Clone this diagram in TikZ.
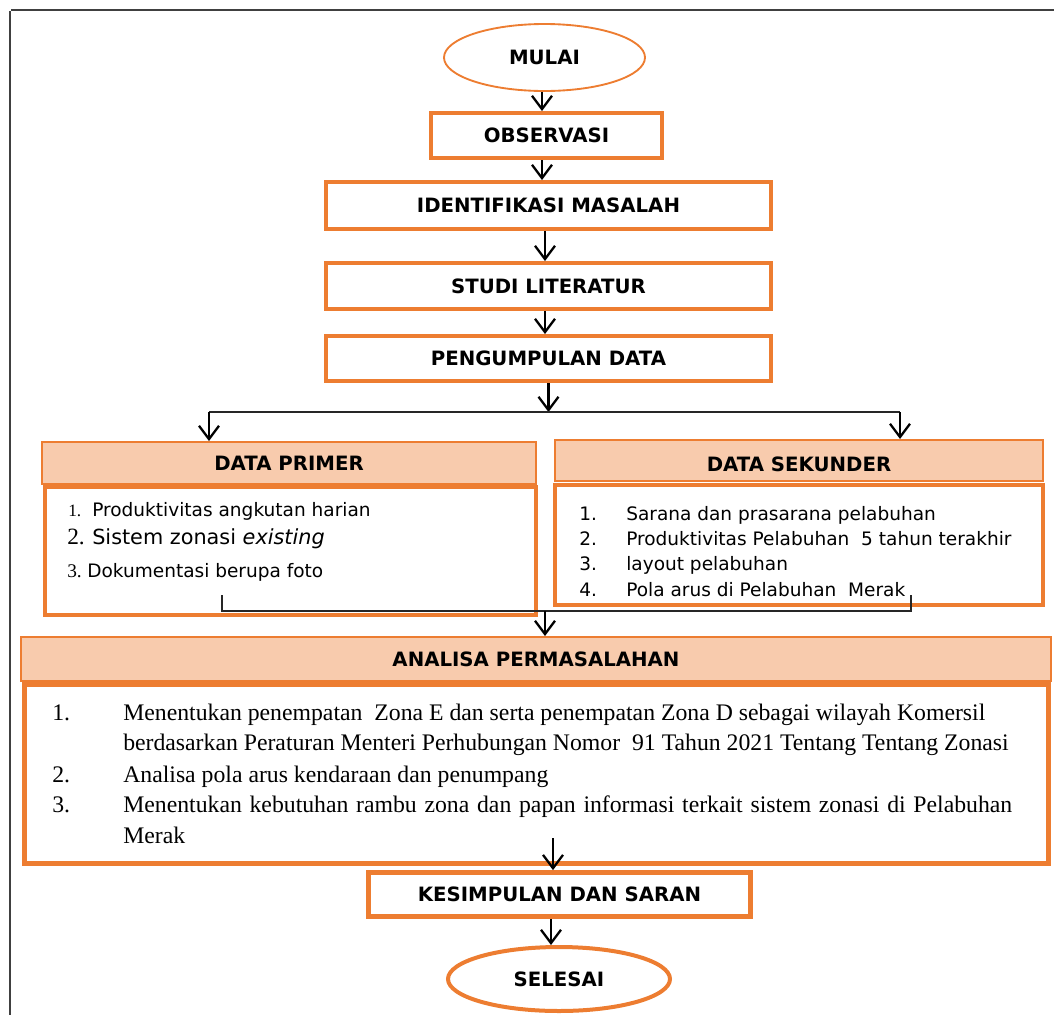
\documentclass[tikz,border=0pt]{standalone}
\usepackage{fontspec}
\setmainfont{Liberation Serif}
\newfontfamily\dvs{DejaVu Sans}
\usetikzlibrary{shapes.geometric,arrows.meta}
\definecolor{org}{HTML}{ED7D31}
\definecolor{peach}{HTML}{F8CBAD}
\begin{document}
\begin{tikzpicture}[x=0.75pt,y=-0.75pt,
  sz/.style 2 args={minimum width=#1*0.75pt,minimum height=#2*0.75pt},
  hfont/.style={font=\dvs\bfseries\fontsize{14.8pt}{17pt}\selectfont},
  termnode/.style={ellipse,draw=org,inner sep=0pt,hfont},
  procbox/.style={rectangle,draw=org,line width=3pt,inner sep=0pt,hfont},
  headbox/.style={rectangle,draw=org,fill=peach,line width=1.5pt,inner sep=0pt,hfont},
  bodybox/.style={rectangle,draw=org,line width=3pt,inner sep=0pt},
  arr/.style={draw=black,line width=1.7pt,-{Straight Barb[length=10pt,width=15pt]}},
  conn/.style={draw=black!85,line width=1pt},
  txt/.style={anchor=base west,inner sep=0pt,font=\dvs\fontsize{13.9pt}{16pt}\selectfont},
  ser/.style={anchor=base west,inner sep=0pt,font=\fontsize{17.8pt}{20pt}\selectfont}]
\useasboundingbox (0,0) rectangle (1054,1015);
% frame
\draw[line width=1.5pt,black!75] (11,10) -- (1054,10);
\draw[line width=1.5pt,black!75] (10,11) -- (10,1015);
% main chain
\node[termnode,line width=1.4pt,sz={201}{67}] (mulai) at (544.5,57.5) {MULAI};
\node[procbox,sz={231}{45}] (obs) at (546.5,135.5) {OBSERVASI};
\node[procbox,sz={445}{47}] (idm) at (548.5,205.5) {IDENTIFIKASI MASALAH};
\node[procbox,sz={445}{46}] (stl) at (548.5,286) {STUDI LITERATUR};
\node[procbox,sz={445}{45}] (pgd) at (548.5,358.5) {PENGUMPULAN DATA};
% data boxes
\node[bodybox,sz={491}{128}] (pb) at (290.5,551) {};
\node[headbox,sz={494}{42}] (ph) at (289,463) {DATA PRIMER};
\node[bodybox,sz={488}{120}] (sb) at (799,545) {};
\node[headbox,sz={488}{41}] (sh) at (799,460.5) {\raisebox{-3pt}[\height][\depth]{DATA SEKUNDER}};
% analisa
\node[bodybox,line width=3.6pt,sz={1024}{179}] (ab) at (536.5,774) {};
\node[headbox,sz={1030}{44}] (ah) at (536,659) {ANALISA PERMASALAHAN};
\node[procbox,line width=3.6pt,sz={382}{44}] (kes) at (559.5,894.5) {KESIMPULAN DAN SARAN};
\node[termnode,line width=3pt,sz={222}{64}] (sel) at (559,979) {SELESAI};
% arrows main chain
\draw[arr] (542,0 |- mulai.south) -- (542,0 |- obs.north);
\draw[arr] (542,0 |- obs.south) -- (542,0 |- idm.north);
\draw[arr] (545,0 |- idm.south) -- (545,0 |- stl.north);
\draw[arr] (545,0 |- stl.south) -- (545,0 |- pgd.north);
% split
\coordinate (sl) at (209,412);
\coordinate (sr) at (900,412);
\draw[arr] (pgd.south) -- (pgd.south |- sl);
\draw[conn] (sl) -- (sr);
\draw[arr] (sl) -- (sl |- ph.north);
\draw[arr] (sr) -- (sr |- sh.north);
% join
\coordinate (pj) at (222,595);
\coordinate (sj) at (911,595);
\coordinate (mj) at (545,611);
\draw[conn] (pj) -- (pj |- mj) -- (sj |- mj) -- (sj);
\draw[arr] (mj) -- (mj |- ah.north);
% lower arrows
\coordinate (ak) at (553,838);
\draw[arr] (ak) -- (ak |- kes.north);
\draw[arr] (551,0 |- kes.south) -- (551,0 |- sel.north);
% primer text
\node[anchor=base west,inner sep=0pt,font=\fontsize{13pt}{15pt}\selectfont] (p1n) at (68,516) {1.};
\node[txt] (p1) at (92,516) {Produktivitas angkutan harian};
\node[anchor=base west,inner sep=0pt,font=\fontsize{17.5pt}{19pt}\selectfont] (p2n) at (67,544) {2.};
\node[txt,font=\dvs\fontsize{15.6pt}{18pt}\selectfont] (p2) at (92,544) {Sistem zonasi \textit{existing}};
\node[anchor=base west,inner sep=0pt,font=\fontsize{14.5pt}{16pt}\selectfont] (p3n) at (67,577) {3.};
\node[txt] (p3) at (87,577) {Dokumentasi berupa foto};
% sekunder text
\node[txt] (s1n) at (579,520) {1.};
\node[txt] (s1) at (626,520) {Sarana dan prasarana pelabuhan};
\node[txt] (s2n) at (579,545) {2.};
\node[txt] (s2) at (626,545) {Produktivitas Pelabuhan\ \ 5 tahun terakhir};
\node[txt] (s3n) at (579,570) {3.};
\node[txt] (s3) at (626,570) {layout pelabuhan};
\node[txt] (s4n) at (579,596) {4.};
\node[txt] (s4) at (626,596) {Pola arus di Pelabuhan\ \ Merak};
% analisa text
\node[ser] (a1n) at (52,720) {1.};
\node[ser] (a1) at (123,720) {Menentukan penempatan\ \ Zona E dan serta penempatan Zona D sebagai wilayah Komersil};
\node[ser] (a1b) at (123,750) {berdasarkan Peraturan Menteri Perhubungan Nomor\ \ 91 Tahun 2021 Tentang Tentang Zonasi};
\node[ser] (a2n) at (52,782) {2.};
\node[ser] (a2) at (123,782) {Analisa pola arus kendaraan dan penumpang};
\node[ser] (a3n) at (52,812) {3.};
\node[ser] (a3) at (123,812) {\makebox[666.75pt][s]{Menentukan kebutuhan rambu zona dan papan informasi terkait sistem zonasi di Pelabuhan}};
\node[ser] (a3b) at (123,843) {Merak};
\end{tikzpicture}
\end{document}
